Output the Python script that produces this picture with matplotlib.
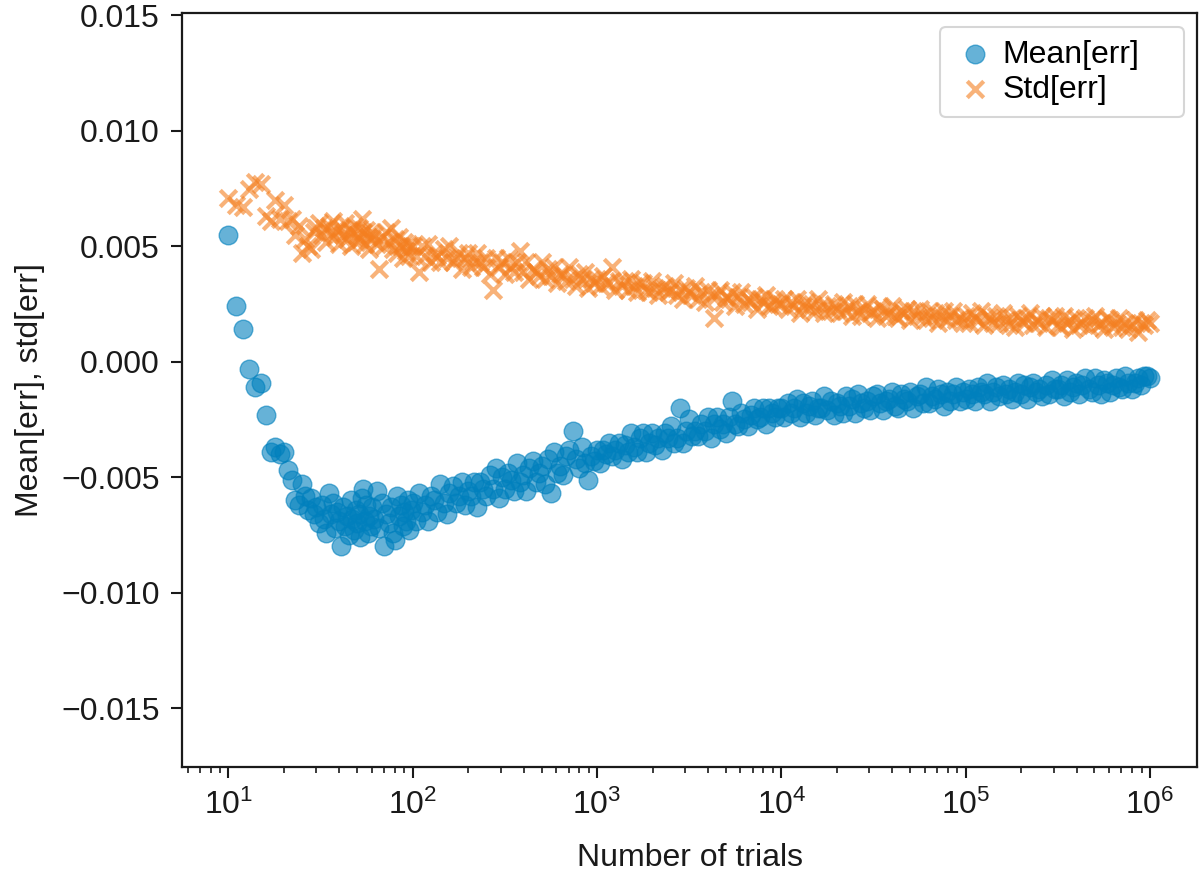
import matplotlib
matplotlib.use("Agg")
import matplotlib.pyplot as plt
from matplotlib.ticker import FuncFormatter

# Number of trials (x positions)
n_trials = [
    10, 11, 12, 13, 14, 15, 16, 17, 18, 19, 20, 21, 22, 23, 24, 25, 26, 27, 28, 29, 30,
    31, 32, 33, 34, 35, 36, 37, 38, 39, 40, 41, 42, 43, 44, 45, 46, 47, 48, 49, 50,
    51, 52, 53, 54, 55, 56, 57, 58, 59, 60,
    62, 64, 66, 68, 70, 72, 74, 76, 78, 80, 82, 84, 86, 88, 90, 92, 94, 96, 98,
    100, 104, 108, 112, 117, 121, 126, 131, 136, 141, 147, 153, 158, 165, 171, 178, 185, 192,
    200, 207, 215, 224, 233, 242, 251, 261, 271, 282, 293, 304, 316, 329, 341, 355, 369, 383,
    398, 414, 430, 447, 464, 482, 501, 521, 541, 562, 584, 607, 631, 656, 681, 708, 736, 764,
    794, 825, 858, 891, 926, 962,
    1000, 1039, 1080, 1122, 1166, 1212, 1259, 1308, 1359, 1413, 1468, 1525, 1585, 1647, 1711,
    1778, 1848, 1920, 1995, 2073, 2154, 2239, 2326, 2417, 2512, 2610, 2712, 2818, 2929, 3043,
    3162, 3286, 3415, 3548, 3687, 3831, 3981, 4137, 4299, 4467, 4642, 4823, 5012, 5208, 5412,
    5623, 5843, 6072, 6310, 6556, 6813, 7079, 7356, 7644, 7943, 8254, 8577, 8913, 9261, 9624,
    10000, 10390, 10800, 11220, 11660, 12120, 12590, 13080, 13590, 14130, 14680, 15250, 15850,
    16470, 17110, 17780, 18480, 19200, 19950, 20730, 21540, 22390, 23260, 24170, 25120, 26100,
    27120, 28180, 29290, 30430, 31620, 32860, 34150, 35480, 36870, 38310, 39810, 41370, 42990,
    44670, 46420, 48230, 50120, 52080, 54120, 56230, 58430, 60720, 63100, 65560, 68130, 70790,
    73560, 76440, 79430, 82540, 85770, 89130, 92610, 96240,
    100000, 103900, 108000, 112200, 116600, 121200, 125900, 130800, 135900, 141300, 146800,
    152500, 158500, 164700, 171100, 177800, 184800, 192000, 199500, 207300, 215400, 223900,
    232600, 241700, 251200, 261000, 271200, 281800, 292900, 304300, 316200, 328600, 341500,
    354800, 368700, 383100, 398100, 413700, 429900, 446700, 464200, 482300, 501200, 520800,
    541200, 562300, 584300, 607200, 631000, 655600, 681300, 707900, 735600, 764400, 794300,
    825400, 857700, 891300, 926100, 962400, 1000000,
]

# Mean[err] in units of 1e-4
mean_err_e4 = [
    55, 24, 14, -3, -11, -9, -23, -39, -37, -40, -39, -47, -51, -60, -62, -53, -58, -64, -59, -66, -63,
    -70, -62, -68, -74, -57, -66, -61, -72, -65, -69, -80, -63, -71, -67, -75, -60, -68, -73, -64, -70,
    -66, -76, -59, -55, -69, -62, -74, -67, -71, -63,
    -68, -56, -72, -61, -80, -66, -70, -63, -74, -77, -58, -67, -62, -71, -65, -69, -60, -73, -64,
    -61, -69, -57, -65, -62, -69, -58, -60, -65, -53, -61, -66, -57, -54, -61, -58, -52, -62, -56, -58,
    -52, -63, -52, -55, -58, -49, -55, -46, -59, -50, -55, -48, -51, -56, -44, -52, -49, -56, -46, -43,
    -52, -48, -45, -53, -42, -57, -39, -48, -45, -49, -41, -38, -30, -42, -46, -37, -44, -51, -41, -43,
    -38, -44, -38, -40, -35, -41, -38, -35, -42, -36, -39, -31, -37, -39, -33, -31, -39, -35, -31, -36,
    -33, -38, -31, -33, -28, -35, -33, -20, -35, -30, -25, -32, -30, -32, -27, -30, -24, -33, -27, -24,
    -29, -27, -31, -24, -17, -27, -28, -22, -25, -28, -23, -20, -25, -24, -20, -27, -20, -22, -24, -20,
    -20, -24, -18, -22, -20, -16, -24, -18, -22, -19, -17, -23, -20, -20, -15, -21, -17, -23, -18, -19,
    -22, -15, -19, -16, -22, -14, -18, -20, -17, -21, -15, -14, -18, -21, -17, -16, -13, -19, -20, -14,
    -16, -17, -13, -20, -15, -14, -18, -11, -18, -15, -16, -12, -14, -19, -13, -17, -14, -11, -17, -13,
    -16, -12, -14, -17, -11, -13, -14, -9, -17, -13, -11, -15, -10, -14, -12, -16, -13, -9, -14, -10,
    -16, -11, -9, -13, -12, -15, -10, -14, -8, -12, -12, -10, -15, -8, -13, -11, -9, -14, -10, -7,
    -12, -13, -7, -10, -14, -8, -9, -13, -10, -7, -11, -12, -6, -9, -12, -9, -7, -10, -6, -6,
    -7,
]

# Std[err] in units of 1e-4
std_err_e4 = [
    71, 68, 67, 75, 78, 77, 63, 61, 70, 62, 68, 61, 62, 55, 59, 47, 53, 50, 49, 56, 58,
    60, 55, 58, 52, 59, 56, 61, 54, 57, 51, 58, 55, 60, 53, 57, 50, 56, 59, 52, 55,
    58, 53, 62, 56, 51, 57, 54, 49, 56, 53,
    55, 51, 40, 54, 50, 56, 52, 58, 49, 53, 47, 54, 50, 45, 52, 48, 51, 46, 50,
    50, 46, 39, 50, 46, 51, 43, 47, 46, 43, 49, 45, 50, 43, 45, 47, 40, 45, 47, 41,
    43, 47, 43, 41, 45, 38, 31, 45, 41, 43, 38, 45, 41, 39, 43, 48, 39, 43, 36, 40,
    39, 37, 43, 36, 40, 37, 41, 34, 38, 38, 35, 41, 36, 33, 38, 36, 39, 32, 36, 34,
    36, 33, 37, 34, 34, 41, 31, 35, 33, 35, 31, 36, 33, 30, 34, 34, 31, 30, 35, 32,
    29, 32, 33, 30, 31, 34, 29, 31, 27, 32, 30, 29, 33, 27, 30, 26, 31, 29, 19, 29,
    31, 26, 28, 27, 30, 24, 28, 30, 25, 27, 26, 28, 23, 27, 26, 29, 24, 24, 27, 25,
    25, 27, 23, 26, 24, 27, 21, 24, 26, 23, 25, 22, 27, 24, 21, 24, 22, 25, 23, 21,
    26, 22, 24, 20, 25, 22, 20, 23, 25, 21, 22, 19, 24, 23, 20, 21, 24, 20, 19, 22,
    21, 23, 18, 22, 20, 23, 20, 18, 22, 19, 21, 17, 20, 22, 18, 20, 22, 18, 19, 17,
    20, 17, 21, 19, 18, 22, 16, 20, 19, 17, 20, 17, 21, 18, 16, 19, 15, 20, 18, 17,
    19, 21, 16, 18, 17, 20, 15, 19, 18, 20, 16, 15, 20, 17, 18, 14, 19, 16, 17, 19,
    15, 18, 20, 16, 17, 14, 19, 18, 15, 17, 19, 15, 17, 14, 16, 18, 13, 17, 16, 18,
    17,
]

mean_err = [v * 1e-4 for v in mean_err_e4]
std_err = [v * 1e-4 for v in std_err_e4]

plt.rcParams["font.family"] = ["Liberation Sans", "DejaVu Sans"]

blue = "#0080bd"
orange = "#f47f20"
ink = "#1a1a1a"

fig = plt.figure(figsize=(12, 8.77), dpi=100)
ax = fig.add_axes([0.1517, 0.1254, 0.8458, 0.8597])

ax.scatter(n_trials, mean_err, s=180, color=blue, alpha=0.6, linewidths=1,
           label="Mean[err]", zorder=3)
ax.scatter(n_trials, std_err, s=140, color=orange, alpha=0.6, marker="x",
           linewidths=3, label="Std[err]", zorder=2)

ax.set_xscale("log")
ax.set_xlim(5.6, 1.8e6)
ax.set_ylim(-0.01755, 0.0151)
ax.set_yticks([-0.015, -0.010, -0.005, 0.0, 0.005, 0.010, 0.015])
ax.yaxis.set_major_formatter(
    FuncFormatter(lambda v, p: ("%.3f" % v).replace("-", "\u2212")))

ax.set_xlabel("Number of trials", fontsize=23, labelpad=16, color=ink)
ax.set_ylabel("Mean[err], std[err]", fontsize=23, labelpad=12, color=ink)

ax.tick_params(axis="both", which="major", labelsize=23, length=8, width=1.5,
               pad=8, direction="out", colors=ink)
ax.tick_params(axis="x", which="minor", length=4.5, width=1.2, color=ink)
for sp in ax.spines.values():
    sp.set_linewidth(1.6)
    sp.set_color(ink)

# legend box spans roughly x 940-1184 px, top at 27 px in the reference
leg = ax.legend(loc="upper left", mode="expand", fontsize=23,
                bbox_to_anchor=(0.7468, 0.0, 0.2404, 0.9814), borderaxespad=0,
                handletextpad=0.15, borderpad=0.4, handlelength=1.4,
                labelspacing=0.15)
leg.get_frame().set_edgecolor("#cccccc")
leg.get_frame().set_linewidth(1.5)

fig.savefig("out.png", dpi=100)
